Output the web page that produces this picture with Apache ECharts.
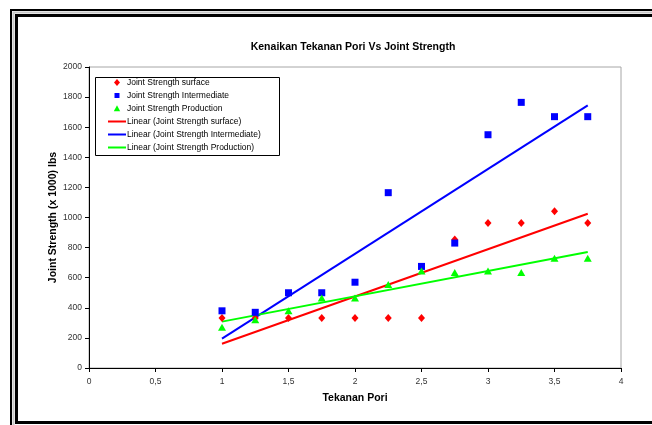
<!DOCTYPE html>
<html>
<head>
<meta charset="utf-8">
<script src="https://cdn.jsdelivr.net/npm/echarts@6/dist/echarts.min.js"></script>
<style>
  html, body { margin: 0; padding: 0; background: #fff; }
  #chart { width: 652px; height: 425px; }
</style>
</head>
<body>
<div id="chart"></div>
<script>
// Pore pressure steps (Tekanan Pori)
var tekananPori = [1, 1.25, 1.5, 1.75, 2, 2.25, 2.5, 2.75, 3, 3.25, 3.5, 3.75];

// Joint strength (x 1000 lbs) per casing section
var strengthSurface      = [333, 333, 333, 333, 333, 333, 333, 853, 964, 964, 1042, 964];
var strengthIntermediate = [380, 370, 500, 500, 570, 1165, 675, 830, 1550, 1765, 1670, 1670];
var strengthProduction   = [270, 320, 380, 465, 465, 555, 645, 635, 645, 635, 730, 730];

var seriesNames = [
  'Joint Strength surface',
  'Joint Strength Intermediate',
  'Joint Strength Production'
];
var trendNames = [
  'Linear (Joint Strength surface)',
  'Linear (Joint Strength Intermediate)',
  'Linear (Joint Strength Production)'
];

// Axis ranges
var xMin = 0, xMax = 4, xStep = 0.5;
var yMin = 0, yMax = 2000, yStep = 200;

function pairs(xs, ys) {
  return xs.map(function (x, i) { return [x, ys[i]]; });
}

// Least-squares linear trendline across the first and last x
function linearTrend(xs, ys) {
  var n = xs.length, sx = 0, sy = 0, sxx = 0, sxy = 0;
  for (var i = 0; i < n; i++) {
    sx += xs[i]; sy += ys[i];
    sxx += xs[i] * xs[i]; sxy += xs[i] * ys[i];
  }
  var slope = (n * sxy - sx * sy) / (n * sxx - sx * sx);
  var icpt = (sy - slope * sx) / n;
  var x0 = xs[0], x1 = xs[n - 1];
  return [[x0, icpt + slope * x0], [x1, icpt + slope * x1]];
}

var colors = ['#ff0000', '#0000ff', '#00ff00'];
var symbols = ['diamond', 'rect', 'triangle'];
var symbolSizes = [[7, 8], [7, 7], [8, 7]];
var valueSets = [strengthSurface, strengthIntermediate, strengthProduction];

// Legend glyphs drawn inside a fixed 22x8 box (the two bare moveTo points pin the box)
var BOX = 'M0,0M22,8';
var legendIcons = [
  'path://' + BOX + 'M13,0.5L16,4L13,7.5L10,4Z',
  'path://' + BOX + 'M10.5,1.5H15.5V6.5H10.5Z',
  'path://' + BOX + 'M13,0.8L16.2,6.8H9.8Z'
];
var lineIcon = 'path://' + BOX + 'M4,3H22V5H4Z';

var series = [];
valueSets.forEach(function (vals, i) {
  series.push({
    name: seriesNames[i],
    type: 'scatter',
    data: pairs(tekananPori, vals),
    symbol: symbols[i],
    symbolSize: symbolSizes[i],
    itemStyle: { color: colors[i], opacity: 1 },
    z: 3
  });
});
valueSets.forEach(function (vals, i) {
  series.push({
    name: trendNames[i],
    type: 'line',
    data: linearTrend(tekananPori, vals),
    symbol: 'none',
    lineStyle: { color: colors[i], width: 2 },
    itemStyle: { color: colors[i] },
    z: 2
  });
});

var legendData = seriesNames.map(function (n, i) {
  return { name: n, icon: legendIcons[i], itemStyle: { color: colors[i], opacity: 1 } };
}).concat(trendNames.map(function (n, i) {
  return { name: n, icon: lineIcon, itemStyle: { color: colors[i], borderWidth: 0 } };
}));

var font = 'Arial, "Liberation Sans", sans-serif';

var chart = echarts.init(document.getElementById('chart'), null, { renderer: 'canvas' });
chart.setOption({
  animation: false,
  backgroundColor: '#ffffff',
  textStyle: { fontFamily: font },
  title: {
    text: 'Kenaikan Tekanan Pori Vs Joint Strength',
    left: 348,
    textAlign: 'center',
    top: 37,
    textStyle: { fontSize: 10.5, fontWeight: 'bold', color: '#000', fontFamily: font }
  },
  grid: {
    left: 89, right: 31, top: 67, bottom: 57,
    show: true,
    borderColor: '#a6a6a6',
    borderWidth: 1,
    backgroundColor: '#ffffff'
  },
  legend: {
    orient: 'vertical',
    left: 104,
    top: 78,
    padding: 0,
    itemWidth: 22,
    itemHeight: 8,
    itemGap: 4,
    align: 'left',
    textStyle: { fontSize: 8.5, color: '#000', fontFamily: font, padding: [0, 0, 0, -4] },
    data: legendData
  },
  xAxis: {
    type: 'value',
    min: xMin, max: xMax, interval: xStep,
    name: 'Tekanan Pori',
    nameLocation: 'middle',
    nameGap: 25,
    nameMoveOverlap: false,
    nameTextStyle: { fontSize: 10.5, fontWeight: 'bold', color: '#000', fontFamily: font },
    axisLine: { onZero: false, lineStyle: { color: '#000', width: 1 } },
    axisTick: { show: true, length: 4, inside: false, lineStyle: { color: '#000' } },
    axisLabel: {
      fontSize: 8.5, color: '#333', margin: 9, fontFamily: font,
      formatter: function (v) { return String(v).replace('.', ','); }
    },
    splitLine: { show: false }
  },
  yAxis: {
    type: 'value',
    min: yMin, max: yMax, interval: yStep,
    name: 'Joint Strength (x 1000) lbs',
    nameLocation: 'middle',
    nameGap: 30,
    nameMoveOverlap: false,
    nameTextStyle: { fontSize: 10.5, fontWeight: 'bold', color: '#000', fontFamily: font },
    axisLine: { show: true, onZero: false, lineStyle: { color: '#000', width: 1 } },
    axisTick: { show: true, length: 4, inside: false, lineStyle: { color: '#000' } },
    axisLabel: {
      fontSize: 8.5, color: '#333', margin: 7, fontFamily: font,
      formatter: function (v) { return String(v); }
    },
    splitLine: { show: false }
  },
  graphic: [
    // legend frame
    { type: 'rect', left: 93, top: 75, shape: { width: 184, height: 78 },
      style: { fill: 'none', stroke: '#000', lineWidth: 1 }, z: 10, silent: true },
    // double chart-area frame
    { type: 'rect', shape: { x: 11, y: 10, width: 700, height: 480 },
      style: { fill: 'none', stroke: '#000', lineWidth: 2 }, z: 10, silent: true },
    { type: 'rect', shape: { x: 13.5, y: 12.5, width: 700, height: 480 },
      style: { fill: 'none', stroke: '#c8c8c8', lineWidth: 2 }, z: 10, silent: true },
    { type: 'rect', shape: { x: 16.5, y: 15.5, width: 700, height: 407 },
      style: { fill: 'none', stroke: '#000', lineWidth: 3 }, z: 10, silent: true }
  ],
  series: series
});
</script>
</body>
</html>
